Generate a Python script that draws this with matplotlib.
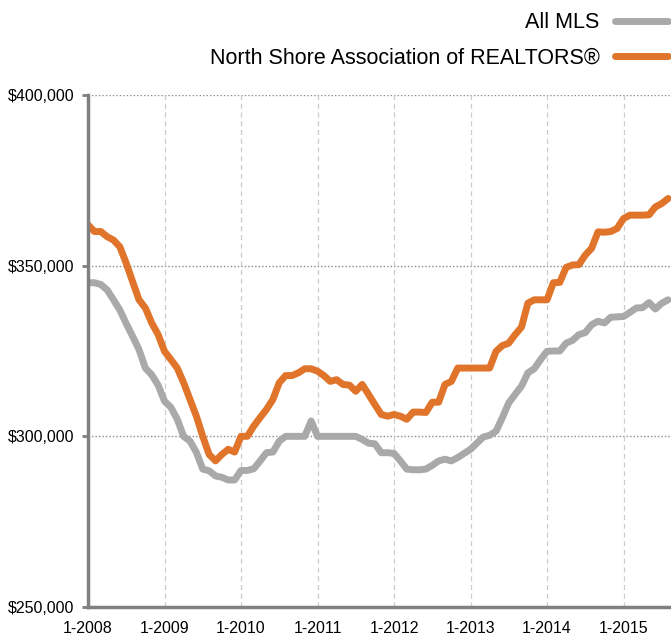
import matplotlib
matplotlib.use("Agg")
import matplotlib.pyplot as plt
from matplotlib.ticker import FuncFormatter

plt.rcParams['font.family'] = ['Liberation Sans', 'DejaVu Sans']

# monthly median prices, Jan 2008 .. Aug 2015 (thousands of $)
all_mls = [345, 345, 344.5, 342.9, 340, 337, 333, 329.3, 325.4, 320, 318, 315,
           310.3, 308.5, 305, 300, 298.6, 295.3, 290.4, 289.9, 288.4, 288, 287.2, 287.2,
           290, 290, 290.5, 292.8, 295.2, 295.4, 298.6, 300, 300, 300, 300, 304.5,
           300, 300, 300, 300, 300, 300, 300, 299.1, 298, 297.8, 295.2, 295.2,
           295, 292.8, 290.4, 290.2, 290.2, 290.4, 291.5, 292.8, 293.3, 292.8, 293.8, 295,
           296.2, 298, 299.8, 300.3, 301.5, 305.5, 309.8, 312.3, 314.7, 318.6, 319.8, 322.5,
           324.9, 325, 325, 327.3, 328.1, 329.8, 330.4, 332.7, 333.7, 333.2, 334.9, 335,
           335.1, 336.3, 337.6, 337.7, 339.2, 337.3, 339, 340]

north_shore = [362, 360, 360, 358.5, 357.5, 355.5, 350.7, 345.3, 340, 337.6, 333.2, 329.8,
               324.9, 322.5, 320, 315.7, 310.8, 305.9, 300, 294.7, 292.8, 294.7, 296.2, 295.4,
               300, 300, 303, 305.5, 307.9, 310.8, 315.7, 317.8, 317.8, 318.6, 319.8, 319.8,
               319.1, 317.8, 316.1, 316.6, 315.2, 315, 313.2, 315.2, 312.3, 309.3, 306.4, 305.9,
               306.4, 305.9, 305, 307.1, 307.1, 307, 310, 310, 315.2, 316.1, 320, 320,
               320, 320, 320, 320, 324.9, 326.6, 327.3, 329.8, 332, 339, 340, 340,
               340, 345, 345.1, 349.5, 350.2, 350.3, 353.1, 355.1, 359.9, 359.8, 360, 360.9,
               363.8, 364.8, 364.8, 364.8, 364.9, 367.2, 368.2, 369.7]

year_labels = ['1-2008', '1-2009', '1-2010', '1-2011', '1-2012', '1-2013', '1-2014', '1-2015']
y_ticks = [250000, 300000, 350000, 400000]

months = list(range(len(all_mls)))
gray = '#a9a9a9'
orange = '#e0742a'

fig = plt.figure(figsize=(6.71, 6.35), dpi=100)
ax = fig.add_axes([88 / 671, 28 / 635, 583 / 671, 512 / 635])

ax.plot(months, [v * 1000 for v in all_mls], color=gray, lw=5,
        solid_joinstyle='round', solid_capstyle='round', label='All MLS')
ax.plot(months, [v * 1000 for v in north_shore], color=orange, lw=5,
        solid_joinstyle='round', solid_capstyle='round',
        label='North Shore Association of REALTORS®')

ax.set_xlim(0, 91.45)
ax.set_ylim(250000, 400000)

ax.set_xticks([12 * i for i in range(len(year_labels))])
ax.set_xticklabels(year_labels)
ax.set_yticks(y_ticks)
ax.yaxis.set_major_formatter(FuncFormatter(lambda v, p: '${:,.0f}'.format(v)))

for y in y_ticks[1:]:
    ax.axhline(y, color='#8a8a8a', lw=1, ls=(0, (1, 1.5)), zorder=0)
for i in range(1, len(year_labels)):
    ax.axvline(12 * i, color='#cccccc', lw=0.9, ls=(0, (4, 3)), zorder=0)

for s in ['top', 'right']:
    ax.spines[s].set_visible(False)
for s in ['left', 'bottom']:
    ax.spines[s].set_color('#808080')
    ax.spines[s].set_linewidth(2.5)

ax.tick_params(axis='y', length=4, width=2, color='#808080', pad=6, labelsize=11.5)
ax.tick_params(axis='x', length=0, pad=10, labelsize=11.5)

leg = fig.legend(loc='upper right', bbox_to_anchor=(1.0 + 9.5 / 671, 1.0), frameon=False,
                 markerfirst=False, fontsize=15.5, handlelength=2.45,
                 handletextpad=0.72, labelspacing=0.64, borderaxespad=0.18)
for line in leg.get_lines():
    line.set_solid_capstyle('round')

fig.savefig('out.png', dpi=100)
